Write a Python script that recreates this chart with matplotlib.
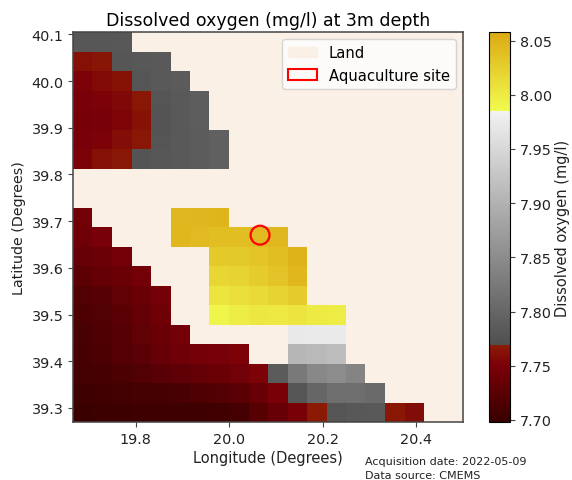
# -*- coding: utf-8 -*-
"""
Dissolved oxygen at 3m depth, gridded map with a three part colormap.
"""

import numpy as np
import matplotlib
matplotlib.use("Agg")
import matplotlib.pyplot as plt

from matplotlib.colors import LinearSegmentedColormap
from matplotlib.patches import Patch


# ---------------------------------------------------------
# Data
# ---------------------------------------------------------

n = np.nan

# Cell edges (1/24 degree grid)
lon_min, lon_max = 19.666, 20.5
lat_min, lat_max = 39.27, 40.105

# Oxygen values, top row first, nan is land
oxygen_rows = [
    [7.780, 7.780, 7.781, n, n, n, n, n, n, n, n, n, n, n, n, n, n, n, n, n],
    [7.761, 7.765, 7.779, 7.781, 7.782, n, n, n, n, n, n, n, n, n, n, n, n, n, n, n],
    [7.752, 7.757, 7.762, 7.778, 7.782, 7.785, n, n, n, n, n, n, n, n, n, n, n, n, n, n],
    [7.748, 7.752, 7.756, 7.766, 7.778, 7.783, 7.788, n, n, n, n, n, n, n, n, n, n, n, n, n],
    [7.747, 7.748, 7.753, 7.762, 7.776, 7.782, 7.788, n, n, n, n, n, n, n, n, n, n, n, n, n],
    [7.749, 7.752, 7.759, 7.766, 7.778, 7.782, 7.787, 7.792, n, n, n, n, n, n, n, n, n, n, n, n],
    [7.752, 7.761, 7.766, 7.776, 7.780, 7.783, 7.787, 7.792, n, n, n, n, n, n, n, n, n, n, n, n],
    [n] * 20,
    [n] * 20,
    [7.745, n, n, n, n, 8.046, 8.047, 8.048, n, n, n, n, n, n, n, n, n, n, n, n],
    [7.742, 7.748, n, n, n, 8.045, 8.043, 8.040, 8.040, 8.043, 8.046, n, n, n, n, n, n, n, n, n],
    [7.735, 7.738, 7.745, n, n, n, n, 8.030, 8.030, 8.034, 8.040, 8.050, n, n, n, n, n, n, n, n],
    [7.727, 7.732, 7.737, 7.745, n, n, n, 8.018, 8.020, 8.028, 8.035, 8.045, n, n, n, n, n, n, n, n],
    [7.717, 7.722, 7.730, 7.737, 7.746, n, n, 8.005, 8.010, 8.015, 8.020, 8.028, n, n, n, n, n, n, n, n],
    [7.714, 7.718, 7.725, 7.732, 7.740, n, n, 7.990, 7.998, 8.003, 8.002, 8.005, 8.000, 7.997, n, n, n, n, n, n],
    [7.712, 7.716, 7.722, 7.730, 7.737, 7.745, n, n, n, n, n, 7.973, 7.975, 7.975, n, n, n, n, n, n],
    [7.710, 7.714, 7.720, 7.726, 7.734, 7.741, 7.746, 7.748, 7.752, n, n, 7.905, 7.910, 7.915, n, n, n, n, n, n],
    [7.708, 7.710, 7.713, 7.718, 7.724, 7.728, 7.732, 7.737, 7.743, 7.752, 7.785, 7.825, 7.845, 7.850, 7.840, n, n, n, n, n],
    [7.704, 7.705, 7.707, 7.708, 7.708, 7.712, 7.715, 7.720, 7.725, 7.735, 7.750, 7.777, 7.800, 7.810, 7.810, 7.805, n, n, n, n],
    [7.700, 7.701, 7.702, 7.703, 7.703, 7.704, 7.704, 7.705, 7.708, 7.722, 7.735, 7.750, 7.768, 7.778, 7.781, 7.782, 7.766, 7.758, n, n],
]

# Colormap stops
vmin, vmax = 7.698, 8.058
cmap_values = [7.698, 7.750, 7.769, 7.7691, 7.985, 7.9851, 8.058]
cmap_colors = ["#380000", "#7b0008", "#8c1c05", "#4f4f4f", "#f2f2f2", "#f2fb50", "#dcaa14"]

# Aquaculture site
site_lon = [20.066]
site_lat = [39.67]

xticks = [19.8, 20.0, 20.2, 20.4]
yticks = [39.3, 39.4, 39.5, 39.6, 39.7, 39.8, 39.9, 40.0, 40.1]
cbar_ticks = [7.70, 7.75, 7.80, 7.85, 7.90, 7.95, 8.00, 8.05]

land_color = "#faf0e6"
frame_color = "#444444"


# ---------------------------------------------------------
# Plot
# ---------------------------------------------------------

oxygen = np.array(oxygen_rows)

lon_edges = np.linspace(lon_min, lon_max, oxygen.shape[1] + 1)
lat_edges = np.linspace(lat_max, lat_min, oxygen.shape[0] + 1)

stops = [(v - vmin) / (vmax - vmin) for v in cmap_values]
cmap = LinearSegmentedColormap.from_list("oxygen", list(zip(stops, cmap_colors)), N=512)

fig = plt.figure(figsize=(5.72, 4.81), dpi=100)
ax = fig.add_axes([73 / 572, 1 - 423 / 481, 390 / 572, 390 / 481])
cax = fig.add_axes([489 / 572, 1 - 423 / 481, 21 / 572, 390 / 481])

ax.set_facecolor(land_color)
mesh = ax.pcolormesh(lon_edges, lat_edges, oxygen, cmap=cmap, vmin=vmin, vmax=vmax)

ax.scatter(site_lon, site_lat, s=185, facecolors="none", edgecolors="red", linewidths=1.6, zorder=3)

ax.set_xlim(lon_min, lon_max)
ax.set_ylim(lat_min, lat_max)
ax.set_xticks(xticks)
ax.set_yticks(yticks)
ax.tick_params(labelsize=10.4, color=frame_color, labelcolor="#222222")

# Darker frame, like the reference
for spine in ax.spines.values():
    spine.set_color(frame_color)
    spine.set_linewidth(1.1)

ax.set_title("Dissolved oxygen (mg/l) at 3m depth", fontsize=12.5, pad=5)
ax.set_xlabel("Longitude (Degrees)", fontsize=10.5, labelpad=3, color="#222222")
ax.set_ylabel("Latitude (Degrees)", fontsize=10.3, labelpad=4, color="#222222")

handles = [
    Patch(facecolor=land_color, edgecolor=land_color, label="Land"),
    Patch(facecolor="none", edgecolor="red", linewidth=1.5, label="Aquaculture site"),
]
ax.legend(handles=handles, loc="upper right", fontsize=10.6)

cbar = fig.colorbar(mesh, cax=cax)
cbar.set_ticks(cbar_ticks)
cbar.ax.set_yticklabels([f"{t:.2f}" for t in cbar_ticks])
cbar.ax.tick_params(labelsize=10.4, color=frame_color, labelcolor="#222222")
cbar.set_label("Dissolved oxygen (mg/l)", fontsize=10.5, labelpad=2, color="#222222")

fig.text(365 / 572, 1 - 467 / 481, "Acquisition date: 2022-05-09", fontsize=8, va="bottom", color="#222222")
fig.text(365 / 572, 1 - 481 / 481, "Data source: CMEMS", fontsize=8, va="bottom", color="#222222")

fig.savefig("out.png", dpi=100)
plt.close(fig)
